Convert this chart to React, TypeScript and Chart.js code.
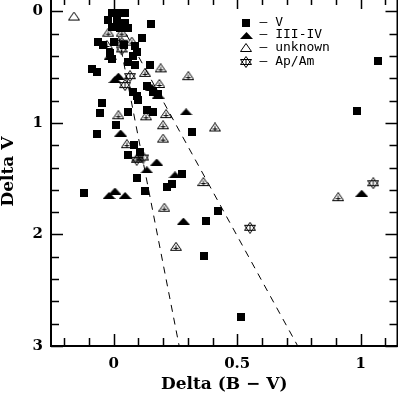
import { useEffect, useRef } from "react";
import { Chart, registerables } from "chart.js";

Chart.register(...registerables);

// ---- data (Delta(B-V), Delta V) ----
const classV: [number, number][] = [
  [-0.008, 0.015], [0.019, 0.015], [0.046, 0.015], [-0.022, 0.075], [0.012, 0.075],
  [0.046, 0.10], [0.026, 0.15], [0.059, 0.15], [-0.008, 0.135], [0.15, 0.11],
  [0.113, 0.24], [-0.062, 0.27], [-0.042, 0.30], [0.0, 0.27], [0.086, 0.31],
  [0.093, 0.36], [0.04, 0.30], [-0.015, 0.37], [-0.008, 0.43], [0.059, 0.45],
  [0.079, 0.40], [-0.089, 0.52], [-0.069, 0.54], [0.147, 0.48], [0.086, 0.48],
  [0.079, 0.72], [0.093, 0.76], [0.10, 0.79], [0.134, 0.67], [0.16, 0.72],
  [0.18, 0.74], [-0.049, 0.82], [-0.055, 0.91], [0.059, 0.90], [0.134, 0.88],
  [0.16, 0.90], [0.008, 1.02], [-0.069, 1.10], [0.083, 1.20], [0.059, 1.285],
  [0.106, 1.26], [0.093, 1.49], [0.316, 1.085], [0.278, 1.46], [0.215, 1.57],
  [0.237, 1.55], [0.127, 1.61], [-0.119, 1.63], [0.424, 1.787], [0.372, 1.88],
  [0.366, 2.19], [0.515, 2.74], [1.071, 0.448], [0.984, 0.888],
];

const classIIIIV: [number, number][] = [
  [-0.015, 0.40], [0.005, 0.61], [0.019, 0.58], [0.154, 0.68], [0.18, 0.75],
  [0.293, 0.90], [0.028, 1.09], [0.174, 1.35], [0.134, 1.42], [0.248, 1.465],
  [0.005, 1.61], [-0.019, 1.65], [0.046, 1.65], [0.282, 1.88], [1.004, 1.63],
];

const classUnknown: [number, number][] = [
  [-0.161, 0.045], [-0.022, 0.19], [0.032, 0.19], [0.073, 0.27], [-0.028, 0.30],
  [0.19, 0.51], [0.302, 0.58], [0.127, 0.55], [0.185, 0.65], [0.212, 0.92],
  [0.2, 1.02], [0.019, 0.93], [0.131, 0.94], [0.2, 1.14], [0.41, 1.04],
  [0.053, 1.19], [0.1, 1.31], [0.363, 1.53], [0.205, 1.76], [0.252, 2.11],
  [0.909, 1.665],
];

const classApAm: [number, number][] = [
  [1.051, 1.54], [0.552, 1.94], [0.032, 0.28], [0.032, 0.34], [0.066, 0.58],
  [0.046, 0.66], [0.093, 1.33], [0.12, 1.31],
];

const fitSteep: [number, number][] = [[0.0, 0.0], [0.265, 3.0]];
const fitShallow: [number, number][] = [[0.0, 0.0], [0.745, 3.0]];

const xTickLabels = [0, 0.5, 1];
const yTickLabels = [0, 1, 2, 3];
const legendLabels = ["V", "III-IV", "unknown", "Ap/Am"];

const xMin = -0.254;
const xMax = 1.149;
const yMin = -0.13;
const yMax = 3;

function makeCanvas(w: number, h: number, draw: (ctx: CanvasRenderingContext2D) => void) {
  const c = document.createElement("canvas");
  c.width = w;
  c.height = h;
  const ctx = c.getContext("2d")!;
  ctx.fillStyle = "#000";
  ctx.strokeStyle = "#000";
  ctx.lineWidth = 1;
  draw(ctx);
  return c;
}

function makeSymbols() {
  const square = makeCanvas(8, 8, (ctx) => ctx.fillRect(0, 0, 8, 8));
  const filledTri = makeCanvas(13, 7, (ctx) => {
    ctx.beginPath();
    ctx.moveTo(0, 7);
    ctx.lineTo(6.5, 0);
    ctx.lineTo(13, 7);
    ctx.closePath();
    ctx.fill();
  });
  const openTriPlain = makeCanvas(12, 10, (ctx) => {
    ctx.beginPath();
    ctx.moveTo(0.5, 8.5);
    ctx.lineTo(6, 0.5);
    ctx.lineTo(11.5, 8.5);
    ctx.closePath();
    ctx.stroke();
  });
  const openTri = makeCanvas(12, 10, (ctx) => {
    ctx.beginPath();
    ctx.moveTo(0.5, 8.5);
    ctx.lineTo(6, 0.5);
    ctx.lineTo(11.5, 8.5);
    ctx.closePath();
    ctx.moveTo(6, 3.5);
    ctx.lineTo(6, 8.5);
    ctx.moveTo(3.5, 6.5);
    ctx.lineTo(8.5, 6.5);
    ctx.stroke();
  });
  const star = makeCanvas(12, 12, (ctx) => {
    ctx.beginPath();
    ctx.moveTo(0.5, 8.5);
    ctx.lineTo(6, 0.5);
    ctx.lineTo(11.5, 8.5);
    ctx.closePath();
    ctx.moveTo(0.5, 3.5);
    ctx.lineTo(11.5, 3.5);
    ctx.lineTo(6, 11.5);
    ctx.closePath();
    ctx.moveTo(6, 3);
    ctx.lineTo(6, 9);
    ctx.stroke();
  });
  return { square, filledTri, openTri, openTriPlain, star };
}

const toPts = (a: [number, number][]) => a.map(([x, y]) => ({ x, y }));

const zeroPad = (s: any) => {
  s.paddingTop = 0;
  s.paddingBottom = 0;
  s.paddingLeft = 0;
  s.paddingRight = 0;
};

export default function App() {
  const ref = useRef<HTMLCanvasElement | null>(null);

  useEffect(() => {
    if (!ref.current) return;
    const sym = makeSymbols();
    const legendSyms = [sym.square, sym.filledTri, sym.openTriPlain, sym.star];

    const framePlugin = {
      id: "frameTicks",
      afterDatasetsDraw(chart: any) {
        const { ctx, chartArea } = chart;
        const xs = chart.scales.x;
        const ys = chart.scales.y;
        const { left, right, top, bottom } = chartArea;
        ctx.save();
        ctx.strokeStyle = "#000";
        ctx.lineWidth = 1.5;
        ctx.beginPath();
        for (let i = -2; i <= 11; i++) {
          const v = i / 10;
          const major = i % 5 === 0;
          const len = major ? 12 : 8;
          const px = Math.round(xs.getPixelForValue(v)) + 0.5;
          ctx.moveTo(px, bottom);
          ctx.lineTo(px, bottom - len);
          ctx.moveTo(px, top);
          ctx.lineTo(px, top + len);
        }
        for (let i = 0; i <= 15; i++) {
          const v = i / 5;
          const major = i % 5 === 0;
          const len = major ? 12 : 8;
          const py = Math.round(ys.getPixelForValue(v)) + 0.5;
          ctx.moveTo(left, py);
          ctx.lineTo(left + len, py);
          ctx.moveTo(right, py);
          ctx.lineTo(right - len, py);
        }
        ctx.stroke();
        ctx.lineWidth = 2;
        ctx.strokeRect(left, top, right - left, bottom - top);

        // legend
        const lx = left + 195;
        const lys = [25.5, 38, 50.5, 64.5];
        ctx.fillStyle = "#000";
        ctx.font = "13px 'DejaVu Sans Mono'";
        ctx.textBaseline = "middle";
        ctx.textAlign = "left";
        legendLabels.forEach((lab, i) => {
          const img = legendSyms[i];
          const y = top + lys[i];
          ctx.drawImage(img, Math.round(lx - img.width / 2), Math.round(y - img.height / 2));
          ctx.fillText("\u2013 " + lab, lx + 13.5, y);
        });
        ctx.restore();
      },
    };

    const serif = "'DejaVu Serif', serif";

    const chart = new Chart(ref.current, {
      type: "scatter",
      data: {
        datasets: [
          {
            label: "fit1",
            data: toPts(fitSteep),
            showLine: true,
            borderColor: "#000",
            borderWidth: 1,
            borderDash: [7, 6],
            pointRadius: 0,
          },
          {
            label: "fit2",
            data: toPts(fitShallow),
            showLine: true,
            borderColor: "#000",
            borderWidth: 1,
            borderDash: [7, 6],
            pointRadius: 0,
          },
          { label: "V", data: toPts(classV), pointStyle: sym.square as any, pointRadius: 5 },
          { label: "III-IV", data: toPts(classIIIIV), pointStyle: sym.filledTri as any, pointRadius: 5 },
          {
            label: "unknown",
            data: toPts(classUnknown),
            pointStyle: classUnknown.map((_, i) => (i === 0 ? sym.openTriPlain : sym.openTri)) as any,
            pointRadius: 5,
          },
          { label: "Ap/Am", data: toPts(classApAm), pointStyle: sym.star as any, pointRadius: 5 },
        ],
      },
      options: {
        animation: false,
        responsive: false,
        devicePixelRatio: 1,
        layout: { autoPadding: false, padding: { top: 7, right: 0.5, left: 0, bottom: 0 } },
        plugins: { legend: { display: false }, tooltip: { enabled: false } },
        scales: {
          x: {
            type: "linear",
            min: xMin,
            max: xMax,
            grid: { display: false, drawTicks: false },
            border: { display: false },
            afterBuildTicks: (s: any) => {
              s.ticks = xTickLabels.map((v) => ({ value: v }));
            },
            afterFit: (s: any) => {
              s.height = 49;
              zeroPad(s);
            },
            ticks: {
              color: "#000",
              padding: 9,
              font: { family: serif, size: 15, weight: "bold" },
              callback: (v: any) => String(v),
            },
            title: {
              display: true,
              text: "Delta (B \u2212 V)",
              color: "#000",
              font: { family: serif, size: 17, weight: "bold", lineHeight: 1 },
              padding: { top: 0, bottom: 1.5 },
            },
          },
          y: {
            type: "linear",
            min: yMin,
            max: yMax,
            reverse: true,
            grid: { display: false, drawTicks: false },
            border: { display: false },
            afterBuildTicks: (s: any) => {
              s.ticks = yTickLabels.map((v) => ({ value: v }));
            },
            afterFit: (s: any) => {
              s.width = 51;
              zeroPad(s);
            },
            ticks: {
              color: "#000",
              padding: 8,
              font: { family: serif, size: 15, weight: "bold" },
              callback: (v: any) => String(v),
            },
            title: {
              display: true,
              text: "Delta V",
              color: "#000",
              font: { family: serif, size: 17, weight: "bold", lineHeight: 1 },
              padding: { top: 0.5, bottom: 0 },
            },
          },
        },
      },
      plugins: [framePlugin],
    } as any);

    return () => chart.destroy();
  }, []);

  return (
    <div style={{ position: "absolute", left: 0, top: -10, width: 398, height: 405 }}>
      <canvas ref={ref} width={398} height={405} style={{ display: "block", width: 398, height: 405 }} />
    </div>
  );
}
